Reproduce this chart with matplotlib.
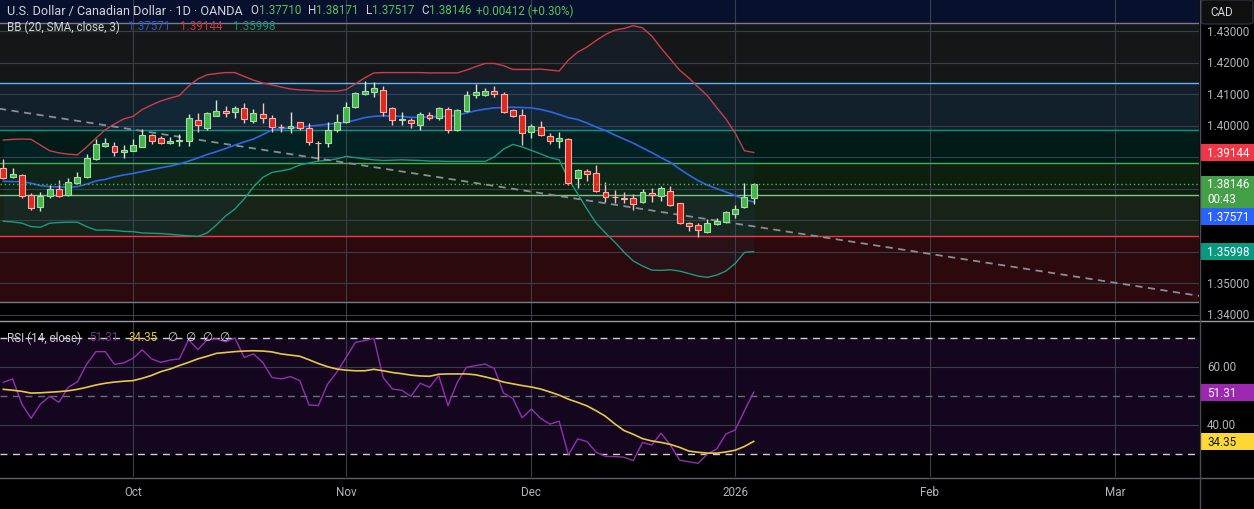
import matplotlib
matplotlib.use("Agg")
import matplotlib.pyplot as plt
import numpy as np
from matplotlib.patches import Rectangle, FancyBboxPatch
from matplotlib.lines import Line2D

plt.rcParams["font.family"] = ["Roboto", "DejaVu Sans"]

# USD/CAD daily candles (bar index = trading day, 0 = Sep 11 2025)
opens = [1.3864, 1.3836, 1.3843, 1.3779, 1.3740, 1.3775, 1.3798, 1.3779, 1.3817, 1.3836,
         1.3894, 1.3934, 1.3934, 1.3915, 1.3920, 1.3933, 1.3970, 1.3960, 1.3943, 1.3952,
         1.3952, 1.4017, 1.3991, 1.4031, 1.4045, 1.4042, 1.4055, 1.4015, 1.4037, 1.4023,
         1.3995, 1.3991, 1.4010, 1.3991, 1.3945, 1.3943, 1.3987, 1.4010, 1.4058, 1.4100,
         1.4107, 1.4114, 1.4055, 1.4019, 1.4017, 1.4003, 1.4033, 1.4023, 1.4052, 1.3986,
         1.4047, 1.4097, 1.4098, 1.4111, 1.4100, 1.4049, 1.4033, 1.3978, 1.3996, 1.3968,
         1.3950, 1.3957, 1.3832, 1.3855, 1.3848, 1.3790, 1.3774, 1.3769, 1.3769, 1.3756,
         1.3786, 1.3775, 1.3793, 1.3753, 1.3690, 1.3684, 1.3663, 1.3688, 1.3695, 1.3719,
         1.3742, 1.37710]
highs = [1.3894, 1.3864, 1.3846, 1.3785, 1.3790, 1.3811, 1.3827, 1.3832, 1.3853, 1.3910,
         1.3957, 1.3960, 1.3947, 1.3938, 1.3957, 1.3989, 1.3973, 1.3966, 1.3964, 1.3973,
         1.4037, 1.4039, 1.4042, 1.4082, 1.4063, 1.4063, 1.4070, 1.4052, 1.4070, 1.4033,
         1.4005, 1.4042, 1.4012, 1.4008, 1.3952, 1.4012, 1.4037, 1.4076, 1.4107, 1.4140,
         1.4139, 1.4127, 1.4058, 1.4044, 1.4023, 1.4044, 1.4044, 1.4058, 1.4058, 1.4052,
         1.4109, 1.4132, 1.4118, 1.4124, 1.4105, 1.4052, 1.4052, 1.4005, 1.4013, 1.3976,
         1.3978, 1.3959, 1.3862, 1.3862, 1.3875, 1.3822, 1.3795, 1.3788, 1.3783, 1.3798,
         1.3801, 1.3809, 1.3809, 1.3754, 1.3693, 1.3690, 1.3703, 1.3705, 1.3729, 1.3748,
         1.3817, 1.38171]
lows = [1.3830, 1.3832, 1.3769, 1.3733, 1.3730, 1.3769, 1.3772, 1.3777, 1.3813, 1.3833,
        1.3891, 1.3932, 1.3904, 1.3898, 1.3928, 1.3931, 1.3941, 1.3941, 1.3940, 1.3934,
        1.3936, 1.3978, 1.3987, 1.4031, 1.4028, 1.4024, 1.4008, 1.4008, 1.4007, 1.3978,
        1.3980, 1.3976, 1.3987, 1.3938, 1.3891, 1.3931, 1.3980, 1.4008, 1.4056, 1.4097,
        1.4090, 1.4029, 1.4002, 1.4002, 1.3992, 1.3987, 1.4017, 1.4018, 1.3975, 1.3984,
        1.4044, 1.4086, 1.4095, 1.4092, 1.4040, 1.4026, 1.3939, 1.3960, 1.3966, 1.3941,
        1.3928, 1.3811, 1.3802, 1.3825, 1.3788, 1.3758, 1.3754, 1.3753, 1.3733, 1.3754,
        1.3758, 1.3760, 1.3744, 1.3687, 1.3666, 1.3645, 1.3659, 1.3684, 1.3690, 1.3705,
        1.3739, 1.37517]
closes = [1.3832, 1.3846, 1.3777, 1.3737, 1.3777, 1.3798, 1.3777, 1.3820, 1.3836, 1.3896,
          1.3941, 1.3944, 1.3915, 1.3923, 1.3938, 1.3970, 1.3950, 1.3943, 1.3951, 1.3954,
          1.4024, 1.4003, 1.4040, 1.4045, 1.4039, 1.4056, 1.4021, 1.4040, 1.4023, 1.3994,
          1.3994, 1.3999, 1.3992, 1.3947, 1.3944, 1.3986, 1.4010, 1.4058, 1.4102, 1.4111,
          1.4118, 1.4044, 1.4018, 1.4020, 1.4007, 1.4037, 1.4025, 1.4055, 1.3986, 1.4049,
          1.4097, 1.4105, 1.4111, 1.4100, 1.4044, 1.4029, 1.3976, 1.3998, 1.3970, 1.3950,
          1.3960, 1.3817, 1.3859, 1.3846, 1.3793, 1.3772, 1.3773, 1.3768, 1.3751, 1.3788,
          1.3779, 1.3801, 1.3748, 1.3690, 1.3680, 1.3669, 1.3690, 1.3697, 1.3724, 1.3735,
          1.3773, 1.38146]

# Bollinger Bands (20, SMA, close, 3)
bb_mid = [1.3823, 1.3822, 1.3822, 1.3817, 1.3809, 1.3806, 1.3805, 1.3804, 1.3806, 1.3814,
          1.3824, 1.3829, 1.3837, 1.3843, 1.3848, 1.3854, 1.3860, 1.3866, 1.3871, 1.3878,
          1.3887, 1.3897, 1.3908, 1.3917, 1.3927, 1.3938, 1.3948, 1.3957, 1.3971, 1.3986,
          1.3990, 1.3992, 1.3994, 1.3998, 1.4001, 1.4004, 1.4007, 1.4010, 1.4017, 1.4025,
          1.4029, 1.4031, 1.4030, 1.4029, 1.4026, 1.4026, 1.4027, 1.4029, 1.4029, 1.4033,
          1.4040, 1.4047, 1.4052, 1.4056, 1.4057, 1.4058, 1.4057, 1.4056, 1.4051, 1.4044,
          1.4035, 1.4025, 1.4019, 1.4008, 1.3995, 1.3984, 1.3970, 1.3957, 1.3944, 1.3929,
          1.3914, 1.3898, 1.3883, 1.3862, 1.3843, 1.3825, 1.3811, 1.3800, 1.3789, 1.3778,
          1.3765, 1.37571]
bb_up = [1.3954, 1.3956, 1.3957, 1.3956, 1.3938, 1.3920, 1.3913, 1.3909, 1.3907, 1.3932,
         1.3960, 1.3986, 1.4005, 1.4021, 1.4029, 1.4051, 1.4065, 1.4078, 1.4087, 1.4095,
         1.4125, 1.4148, 1.4161, 1.4165, 1.4168, 1.4168, 1.4156, 1.4144, 1.4135, 1.4129,
         1.4122, 1.4116, 1.4113, 1.4112, 1.4110, 1.4109, 1.4109, 1.4114, 1.4132, 1.4151,
         1.4167, 1.4168, 1.4168, 1.4168, 1.4168, 1.4168, 1.4167, 1.4167, 1.4167, 1.4167,
         1.4176, 1.4187, 1.4197, 1.4197, 1.4190, 1.4178, 1.4178, 1.4178, 1.4179, 1.4176,
         1.4173, 1.4208, 1.4233, 1.4249, 1.4270, 1.4289, 1.4303, 1.4308, 1.4317, 1.4310,
         1.4284, 1.4246, 1.4211, 1.4176, 1.4151, 1.4122, 1.4095, 1.4057, 1.4021, 1.3976,
         1.3920, 1.39144]
bb_low = [1.3696, 1.3694, 1.3690, 1.3679, 1.3677, 1.3690, 1.3692, 1.3693, 1.3693, 1.3679,
          1.3668, 1.3668, 1.3667, 1.3664, 1.3663, 1.3659, 1.3658, 1.3657, 1.3655, 1.3652,
          1.3650, 1.3648, 1.3659, 1.3684, 1.3713, 1.3735, 1.3767, 1.3805, 1.3835, 1.3851,
          1.3856, 1.3862, 1.3875, 1.3881, 1.3887, 1.3889, 1.3894, 1.3902, 1.3898, 1.3894,
          1.3891, 1.3889, 1.3890, 1.3891, 1.3890, 1.3889, 1.3887, 1.3887, 1.3886, 1.3886,
          1.3886, 1.3886, 1.3886, 1.3900, 1.3925, 1.3940, 1.3932, 1.3921, 1.3910, 1.3898,
          1.3891, 1.3830, 1.3783, 1.3735, 1.3690, 1.3659, 1.3630, 1.3598, 1.3570, 1.3554,
          1.3541, 1.3540, 1.3542, 1.3538, 1.3530, 1.3522, 1.3518, 1.3525, 1.3538, 1.3562,
          1.3597, 1.35998]

# RSI (14) and its moving average
rsi = [54.7, 55.9, 47.2, 42.3, 47.2, 49.9, 47.8, 53.0, 54.9, 61.0,
       65.3, 65.3, 60.9, 61.4, 63.0, 65.9, 62.8, 61.6, 62.4, 62.8,
       69.4, 66.0, 69.4, 69.7, 68.7, 70.0, 63.3, 64.5, 61.6, 56.4,
       55.9, 56.7, 55.3, 46.9, 46.7, 54.1, 58.2, 63.3, 68.5, 69.1,
       69.9, 56.4, 52.4, 52.0, 49.9, 54.4, 53.0, 57.0, 46.7, 54.7,
       59.9, 60.5, 61.0, 59.5, 51.0, 49.2, 42.5, 45.5, 42.3, 40.3,
       41.3, 29.7, 35.2, 34.3, 30.6, 29.2, 29.1, 28.9, 27.7, 34.0,
       33.1, 37.2, 33.1, 27.9, 27.3, 26.8, 30.0, 31.7, 36.9, 38.3,
       44.9, 51.31]
rsi_ma = [52.3, 52.0, 51.6, 51.0, 51.1, 51.3, 51.5, 51.8, 52.3, 53.0,
          53.8, 54.4, 54.8, 55.1, 55.3, 56.1, 57.1, 58.4, 59.3, 60.5,
          61.6, 62.8, 63.7, 64.7, 65.0, 65.3, 65.5, 65.6, 65.5, 65.2,
          64.5, 64.1, 63.7, 62.5, 61.2, 60.1, 59.3, 58.9, 58.7, 58.7,
          59.2, 58.7, 58.1, 57.7, 57.2, 56.9, 56.8, 57.5, 57.6, 57.6,
          57.6, 57.3, 56.6, 55.8, 54.8, 54.2, 53.6, 53.1, 52.4, 51.4,
          50.3, 48.9, 47.8, 46.6, 44.9, 43.0, 40.4, 38.1, 36.8, 35.3,
          34.5, 34.0, 33.3, 32.3, 31.0, 30.6, 30.3, 30.3, 30.7, 31.3,
          32.6, 34.35]

# fib retracement drawn on the chart
fib_low, fib_high = 1.3440, 1.4325
fib_levels = [0, 0.236, 0.382, 0.5, 0.618, 0.786, 1.0, 1.618]
fib_colors = ["#787b86", "#f23645", "#81c784", "#4caf50", "#089981", "#64b5f6", "#787b86", "#2962ff"]

# dashed trend line (bar index, price)
trend_x = [-1, 130]
trend_y = [1.4056, 1.3455]

month_pos = [14, 37, 57, 79, 100, 120]
month_lab = ["Oct", "Nov", "Dec", "2026", "Feb", "Mar"]

W, H = 1254, 510
FS = 8.4
TXT = "#d1d4dc"
AXT = "#b2b5be"


def box(x0, y0, x1, y1):
    return [x0 / W, 1 - y1 / H, (x1 - x0) / W, (y1 - y0) / H]


fig = plt.figure(figsize=(W / 100, H / 100), dpi=100, facecolor="black")
ax = fig.add_axes(box(0, 0, 1199, 321))
ax_r = fig.add_axes(box(0, 322, 1199, 478), sharex=ax)
ps = fig.add_axes(box(1200, 0, 1254, 321), sharey=ax)
rs = fig.add_axes(box(1200, 322, 1254, 478), sharey=ax_r)
for a in (ax, ax_r, ps, rs):
    a.set_facecolor("black")
    for s in a.spines.values():
        s.set_visible(False)

idx = np.arange(len(closes))
o, hi, lo, c = map(np.array, (opens, highs, lows, closes))

# fib bands
fib_prices = [fib_low + (fib_high - fib_low) * f for f in fib_levels]
for i in range(1, len(fib_prices)):
    ax.axhspan(fib_prices[i - 1], fib_prices[i], color=fib_colors[i], alpha=0.18, lw=0, zorder=0)
for p, col in zip(fib_prices, fib_colors):
    ax.axhline(p, color=col, lw=1, zorder=1)

# grid
price_ticks = np.round(np.arange(1.34, 1.4301, 0.01), 2)
ax.set_axisbelow(True)
ax.set_yticks(price_ticks)
ax.set_xticks(month_pos)
ax.grid(True, color="#3a3e48", lw=0.8)
ax.tick_params(length=0, labelbottom=False, labelleft=False)

# bollinger bands
ax.fill_between(idx, bb_low, bb_up, color="#2196f3", alpha=0.05, lw=0, zorder=1.5)
ax.plot(idx, bb_up, color="#cc3d4b", lw=1, zorder=2)
ax.plot(idx, bb_mid, color="#2f66e8", lw=1.2, zorder=2)
ax.plot(idx, bb_low, color="#1b9a80", lw=1, zorder=2)

ax.plot(trend_x, trend_y, color="#8a8d96", lw=1.3, ls=(0, (4, 3)), zorder=2.5)

# candles
up = c >= o
ax.vlines(idx[up], lo[up], hi[up], color="#cfe8cf", lw=1, zorder=3)
ax.vlines(idx[~up], lo[~up], hi[~up], color="#f3c2bd", lw=1, zorder=3)
body = np.maximum(np.abs(c - o), 0.00005)
ax.bar(idx[up], body[up], bottom=o[up], width=0.64, color="#43b649",
       edgecolor="#a5dba7", lw=0.8, zorder=4)
ax.bar(idx[~up], body[~up], bottom=c[~up], width=0.64, color="#e0281e",
       edgecolor="#f7b0a6", lw=0.8, zorder=4)

ax.axhline(c[-1], color="#4caf50", lw=1, ls=(0, (1, 2)), zorder=5)

# RSI pane
ax_r.axhspan(30, 70, color="#13061e", lw=0, zorder=0)
ax_r.set_axisbelow(True)
ax_r.set_yticks([40, 60])
ax_r.grid(True, color="#3a3e48", lw=0.8)
ax_r.axhline(70, color="#d0d0d0", lw=1, ls=(0, (5, 4)), zorder=1)
ax_r.axhline(30, color="#d0d0d0", lw=1, ls=(0, (5, 4)), zorder=1)
ax_r.axhline(50, color="#6b6e78", lw=1, ls=(0, (5, 4)), zorder=1)
ax_r.plot(idx, rsi, color="#9430b0", lw=1, zorder=3)
ax_r.plot(idx, rsi_ma, color="#e8c848", lw=1.2, zorder=3)
ax_r.set_xticks(month_pos)
ax_r.set_xticklabels(month_lab)
ax_r.tick_params(axis="x", length=0, pad=6, labelcolor=AXT, labelsize=FS)
ax_r.tick_params(axis="y", length=0, labelleft=False)

# price scale
for a in (ps, rs):
    a.set_xticks([])
    a.tick_params(left=False, labelleft=False)


def tag(a, y, h, text, bg, fg="white"):
    a.add_patch(Rectangle((0.02, y - h / 2), 0.98, h, facecolor=bg, edgecolor="none", clip_on=False))
    a.text(0.13, y, text, color=fg, fontsize=FS, va="center")


blue_tag_y = c[-1] - 0.00762 - 0.0027
tag_prices = [bb_up[-1], c[-1], blue_tag_y, bb_low[-1]]
for v in price_ticks:
    if min(abs(v - t) for t in tag_prices) > 0.006:
        ps.text(0.13, v, f"{v:.5f}", color=AXT, fontsize=FS, va="center")

tag(ps, bb_up[-1], 0.0054, f"{bb_up[-1]:.5f}", "#f23645")
ps.add_patch(Rectangle((0.02, c[-1] - 0.00762), 0.98, 0.01016, facecolor="#43a047",
                       edgecolor="none", clip_on=False))
ps.text(0.13, c[-1], f"{c[-1]:.5f}", color="white", fontsize=FS, va="center")
ps.text(0.13, c[-1] - 0.00476, "00:43", color="white", fontsize=FS, va="center")
tag(ps, blue_tag_y, 0.0054, f"{bb_mid[-1]:.5f}", "#2962ff")
tag(ps, bb_low[-1], 0.0054, f"{bb_low[-1]:.5f}", "#089981")

for v in (40, 60):
    rs.text(0.13, v, f"{v:.2f}", color=AXT, fontsize=FS, va="center")
tag(rs, rsi[-1], 5.86, f"{rsi[-1]:.2f}", "#9c27b0")
tag(rs, rsi_ma[-1], 5.86, f"{rsi_ma[-1]:.2f}", "#fdd835", fg="#131722")


# legends
def legend(a, x_frac, y_frac, parts, first_fs=FS):
    t = a.text(x_frac, y_frac, parts[0][0], color=parts[0][1], fontsize=first_fs,
               va="center", transform=a.transAxes, zorder=10)
    for s, col, gap in parts[1:]:
        t = a.annotate(s, xy=(1, 0.5), xycoords=t, xytext=(gap, 0), textcoords="offset pixels",
                       color=col, fontsize=FS, va="center", ha="left", zorder=10)


GRN = "#56c35a"
legend(ax, 7 / 1199, 1 - 11 / 321, [
    ("U.S. Dollar / Canadian Dollar · 1D · OANDA", TXT),
    ("O", TXT, 8), ("1.37710", GRN, 0),
    ("H", TXT, 7), ("1.38171", GRN, 0),
    ("L", TXT, 7), ("1.37517", GRN, 0),
    ("C", TXT, 7), ("1.38146", GRN, 0),
    ("+0.00412 (+0.30%)", GRN, 5)], first_fs=9.1)
legend(ax, 7 / 1199, 1 - 27 / 321, [
    ("BB (20, SMA, close, 3)", TXT),
    ("1.37571", "#2a5ad8", 8), ("1.39144", "#c9344a", 10), ("1.35998", "#14957a", 10)])
legend(ax_r, 7 / 1199, 1 - 16 / 156, [
    ("RSI (14, close)", TXT),
    ("51.31", "#7a3a8a", 8), ("34.35", "#e8c547", 10),
    ("∅", TXT, 10), ("∅", TXT, 7), ("∅", TXT, 7), ("∅", TXT, 7)])

# pane separators and currency box
fig.add_artist(Line2D([0, 1], [1 - 321.5 / H] * 2, color="#9a9da6", lw=1))
fig.add_artist(Line2D([0, 1], [1 - 478.5 / H] * 2, color="#5d606b", lw=1))
fig.add_artist(Line2D([1199.5 / W] * 2, [0, 1], color="#4a4d57", lw=1))
fig.add_artist(FancyBboxPatch((1201 / W, 1 - 25 / H), 52 / W, 24 / H,
                              boxstyle="round,pad=0,rounding_size=0.004",
                              transform=fig.transFigure, facecolor="#0f0f10", edgecolor="#2a2e39"))
fig.text(1222 / W, 1 - 13 / H, "CAD", color=TXT, fontsize=FS, ha="center", va="center")

ax.set_xlim(-0.36, 129.07)
ax.set_ylim(1.33826, 1.44016)
ax_r.set_ylim(22.07, 75.86)
ps.set_xlim(0, 1)
rs.set_xlim(0, 1)

fig.savefig("out.png", dpi=100, facecolor="black")
